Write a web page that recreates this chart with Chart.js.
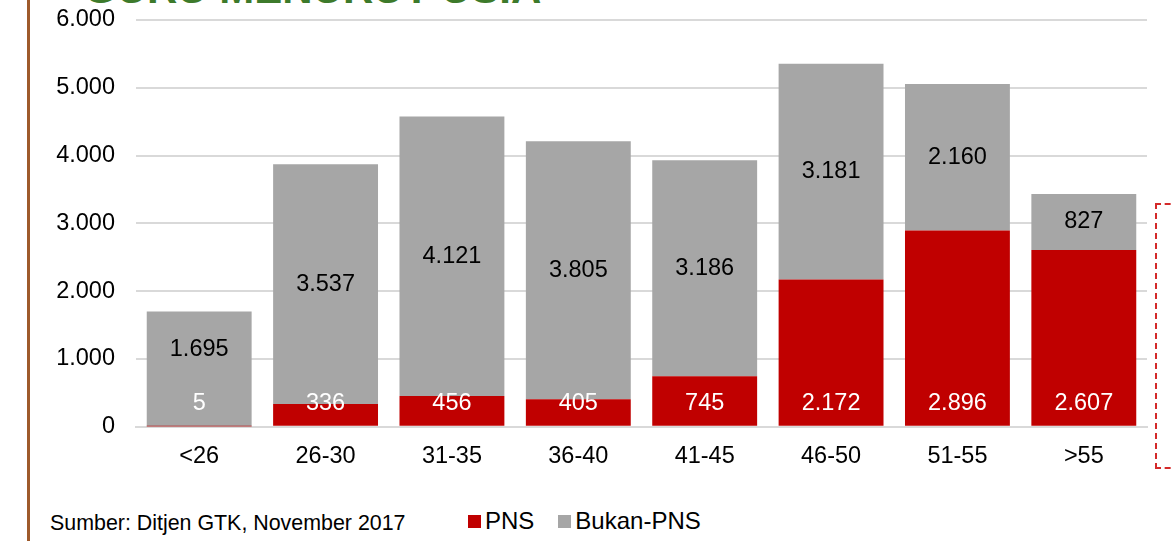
<!DOCTYPE html>
<html>
<head>
<meta charset="utf-8">
<script src="https://cdn.jsdelivr.net/npm/chart.js@4.4.0/dist/chart.umd.min.js"></script>
<style>
  html, body { margin: 0; padding: 0; background: #fff; }
  body { width: 1174px; height: 541px; position: relative; overflow: hidden; font-family: "Liberation Sans", Arial, sans-serif; }
  #wrap { position: absolute; left: 0; top: 0; width: 1174px; height: 498px; }
  #title { position: absolute; left: 84px; top: -35px; font-size: 42px; font-weight: bold; color: #3d7a2b; white-space: nowrap; }
  #sideLine { position: absolute; left: 27px; top: 0; width: 3px; height: 541px; background: #9e5a2b; }
  #dashBox { position: absolute; left: 1155px; top: 203px; width: 60px; height: 262px; border: 2px dashed #d42a2a; }
  #source { position: absolute; left: 50px; top: 511px; font-size: 21.4px; color: #000; }
  #legend { position: absolute; left: 468px; top: 507px; font-size: 24px; color: #000; display: flex; align-items: center; }
  #legend .item { display: flex; align-items: center; margin-right: 24px; }
  #legend .box { width: 13px; height: 13px; margin-right: 4px; }
</style>
</head>
<body>
<div id="title">GURU MENURUT USIA</div>
<div id="sideLine"></div>
<div id="wrap"><canvas id="chart"></canvas></div>
<div id="dashBox"></div>
<div id="source">Sumber: Ditjen GTK, November 2017</div>
<div id="legend"></div>
<script>
// kelompok usia
const categories = ['<26', '26-30', '31-35', '36-40', '41-45', '46-50', '51-55', '>55'];
const pnsValues = [5, 336, 456, 405, 745, 2172, 2896, 2607];
const bukanPnsValues = [1695, 3537, 4121, 3805, 3186, 3181, 2160, 827];
const yTicks = [0, 1000, 2000, 3000, 4000, 5000, 6000];

const seriesNames = ['PNS', 'Bukan-PNS'];
const seriesColors = ['#c00000', '#a6a6a6'];

const FONT = '"Liberation Sans", Arial, sans-serif';

function fmt(n) {
    return n.toLocaleString('de-DE');
}

// label angka di dalam batang
const barLabels = {
    id: 'barLabels',
    afterDatasetsDraw(chart) {
        const ctx = chart.ctx;
        const pnsMeta = chart.getDatasetMeta(0);
        const bukanMeta = chart.getDatasetMeta(1);
        const zeroY = chart.scales.y.getPixelForValue(0);
        const baseLabelY = zeroY - 23;
        ctx.save();
        ctx.font = '23.5px ' + FONT;
        ctx.textAlign = 'center';
        ctx.textBaseline = 'middle';
        pnsMeta.data.forEach((bar, i) => {
            ctx.fillStyle = '#ffffff';
            ctx.fillText(fmt(pnsValues[i]), bar.x, baseLabelY);
        });
        bukanMeta.data.forEach((bar, i) => {
            let y = (bar.y + bar.base) / 2;
            if (y > baseLabelY - 40) y = baseLabelY - 54;
            ctx.fillStyle = '#000000';
            ctx.fillText(fmt(bukanPnsValues[i]), bar.x, y);
        });
        ctx.restore();
    }
};

const ctx = document.getElementById('chart').getContext('2d');
const chart = new Chart(ctx, {
    type: 'bar',
    data: {
        labels: categories,
        datasets: [
            { label: seriesNames[0], data: pnsValues, backgroundColor: seriesColors[0] },
            { label: seriesNames[1], data: bukanPnsValues, backgroundColor: seriesColors[1] }
        ]
    },
    options: {
        responsive: true,
        maintainAspectRatio: false,
        animation: false,
        datasets: { bar: { categoryPercentage: 1, barPercentage: 0.83 } },
        layout: { padding: { top: 20, right: 27, bottom: 11, left: 0 } },
        plugins: { legend: { display: false }, tooltip: { enabled: false } },
        scales: {
            x: {
                stacked: true,
                grid: { display: false, drawTicks: false },
                border: { display: true, color: '#d9d9d9', width: 2 },
                ticks: { color: '#000', font: { family: FONT, size: 23.5 }, padding: 16 }
            },
            y: {
                stacked: true,
                min: 0,
                max: 6000,
                afterBuildTicks(axis) {
                    axis.ticks = yTicks.map(v => ({ value: v }));
                },
                afterFit(axis) {
                    axis.width = 136;
                    axis.paddingTop = 0;
                    axis.paddingBottom = 0;
                },
                grid: { color: '#d9d9d9', lineWidth: 2, drawTicks: false },
                border: { display: false },
                ticks: {
                    color: '#000',
                    font: { family: FONT, size: 23.5 },
                    padding: 21,
                    callback: v => fmt(v)
                }
            }
        }
    },
    plugins: [barLabels]
});

// legenda
const legend = document.getElementById('legend');
seriesNames.forEach((name, i) => {
    const item = document.createElement('span');
    item.className = 'item';
    item.innerHTML = `<span class="box" style="background:${seriesColors[i]}"></span>${name}`;
    legend.appendChild(item);
});
</script>
</body>
</html>
